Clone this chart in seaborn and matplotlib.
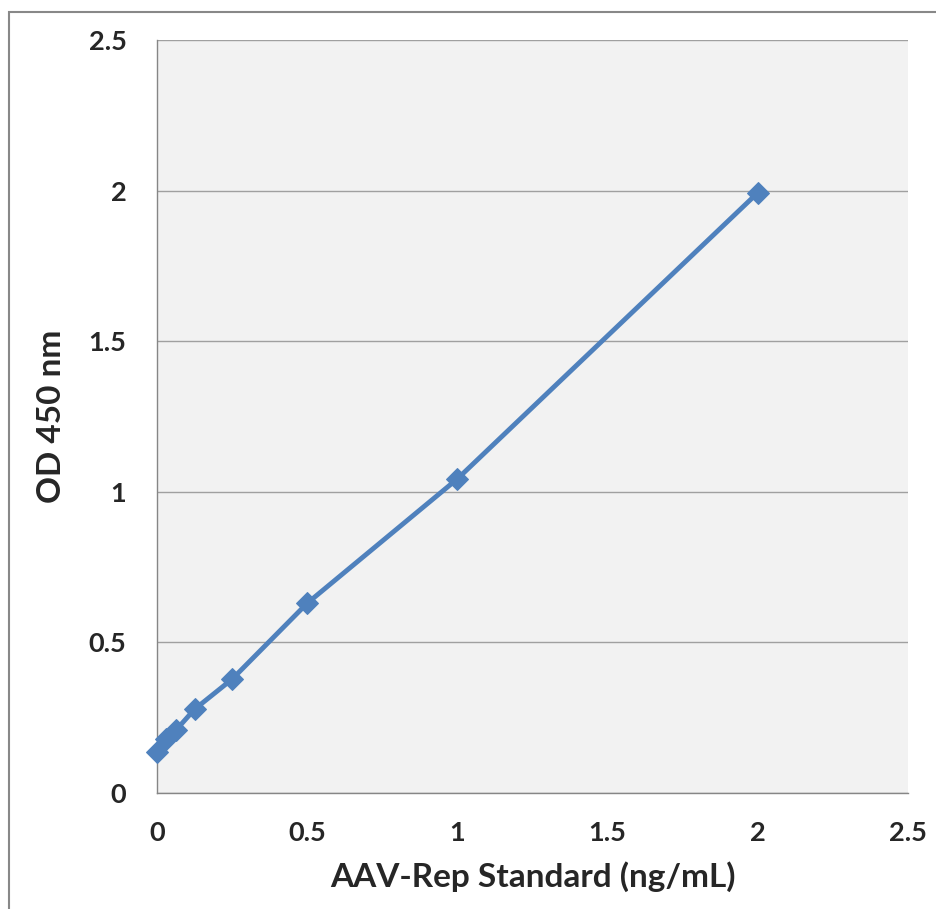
import matplotlib
matplotlib.use("Agg")
import matplotlib.pyplot as plt
import seaborn as sns
import pandas as pd
from matplotlib.patches import Rectangle

conc = [0.0, 0.03125, 0.0625, 0.125, 0.25, 0.5, 1.0, 2.0]
od = [0.137, 0.178, 0.208, 0.278, 0.378, 0.630, 1.043, 1.993]
x_ticks = [0, 0.5, 1, 1.5, 2, 2.5]
y_ticks = [0, 0.5, 1, 1.5, 2, 2.5]
x_tick_labels = ["0", "0.5", "1", "1.5", "2", "2.5"]
y_tick_labels = ["0", "0.5", "1", "1.5", "2", "2.5"]

df = pd.DataFrame({"conc": conc, "od": od})

sns.set_style("white")
plt.rcParams['font.family'] = ['Lato', 'DejaVu Sans']

fig = plt.figure(figsize=(9.36, 9.09), dpi=100)
ax = fig.add_axes([157/936, 1-793/909, (908-157)/936, (793-40)/909])
ax.set_facecolor("#F2F2F2")

sns.lineplot(data=df, x="conc", y="od", ax=ax, color="#4F81BD", linewidth=3.5,
             marker="D", markersize=11.5, markeredgecolor="#4F81BD", zorder=3,
             clip_on=False)

ax.set_xlim(0, 2.5)
ax.set_ylim(0, 2.5)
ax.set_xticks(x_ticks)
ax.set_xticklabels(x_tick_labels)
ax.set_yticks(y_ticks)
ax.set_yticklabels(y_tick_labels)
ax.grid(axis="y", color="#A0A0A0", linewidth=1)
ax.grid(axis="x", visible=False)
ax.set_axisbelow(True)
for s in ["top", "right"]:
    ax.spines[s].set_visible(False)
for s in ["left", "bottom"]:
    ax.spines[s].set_color("#868686")
    ax.spines[s].set_linewidth(1)
ax.tick_params(axis="both", direction="out", length=8, width=1, color="#868686",
               labelsize=19.5)
for lab in ax.get_xticklabels() + ax.get_yticklabels():
    lab.set_fontweight("bold")
ax.tick_params(axis="y", pad=14)
ax.tick_params(axis="x", pad=12)

ax.set_xlabel("AAV-Rep Standard (ng/mL)", fontsize=24, fontweight="bold", labelpad=12)
ax.set_ylabel("OD 450 nm", fontsize=24, fontweight="bold", labelpad=16)

fig.patches.append(Rectangle((9/936, -0.1), 1.2, 1 - 12/909 + 0.1, transform=fig.transFigure,
                             fill=False, edgecolor="#888888", linewidth=1.5))

fig.savefig("out.png", dpi=100)
